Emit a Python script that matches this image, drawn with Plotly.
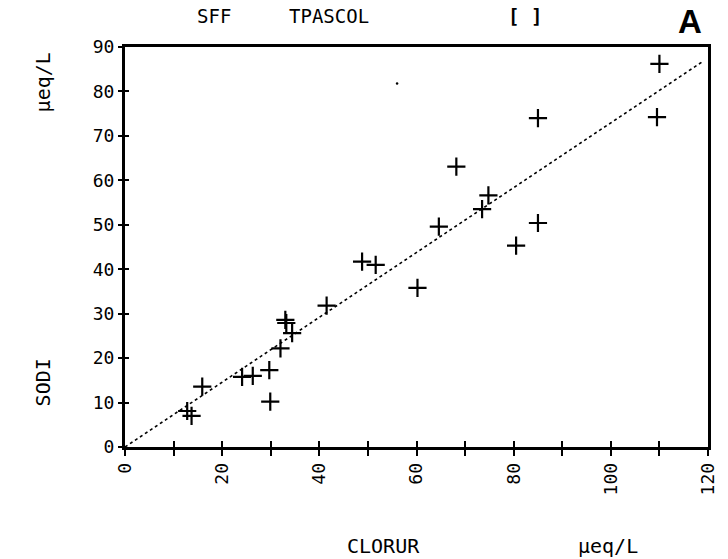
import plotly.graph_objects as go

# --- data ---
clorur = [12.8, 13.7, 15.9, 24.1, 26.3, 29.7, 29.9, 32.0, 33.0, 33.2, 34.4,
          41.5, 48.8, 51.6, 60.2, 64.6, 68.2, 73.5, 74.8, 80.5, 85.0, 85.0,
          109.5, 110.0]
sodi = [8.1, 7.0, 13.6, 15.8, 16.0, 17.3, 10.2, 22.2, 28.6, 27.9, 25.6,
        31.8, 41.7, 41.0, 35.8, 49.6, 63.1, 53.5, 56.6, 45.3, 50.4, 74.0,
        74.2, 86.2]
fit_x = [0, 119]
fit_y = [0, 86.8]
stray_x = [56]
stray_y = [81.8]

x_ticks = list(range(0, 121, 10))
x_text = [str(v) if v % 20 == 0 else "" for v in x_ticks]
y_ticks = list(range(0, 91, 10))
y_text = [str(v) for v in y_ticks]

MONO = "DejaVu Sans Mono"

fig = go.Figure()
fig.add_trace(go.Scatter(x=fit_x, y=fit_y, mode="lines",
                         line=dict(color="black", width=1.6, dash="dot"),
                         showlegend=False, hoverinfo="skip"))
fig.add_trace(go.Scatter(x=clorur, y=sodi, mode="markers",
                         marker=dict(symbol="cross-thin-open", size=13,
                                     color="black",
                                     line=dict(color="black", width=2.2)),
                         showlegend=False))
fig.add_trace(go.Scatter(x=stray_x, y=stray_y, mode="markers",
                         marker=dict(symbol="circle", size=2.5, color="black"),
                         showlegend=False, hoverinfo="skip"))
fig.add_trace(go.Scatter(x=[None], y=[None], xaxis="x2", yaxis="y2",
                         showlegend=False, hoverinfo="skip"))

axis_common = dict(showgrid=False, zeroline=False, tickcolor="black",
                   tickwidth=2)

fig.update_layout(
    width=728, height=559,
    margin=dict(l=125, r=10, t=47, b=112),
    paper_bgcolor="white", plot_bgcolor="white",
    font=dict(family=MONO, color="black", size=18),
    xaxis=dict(range=[0, 120], tickvals=x_ticks, ticktext=x_text,
               ticks="outside", ticklen=6, tickangle=-90,
               showline=True, linewidth=2.5, linecolor="black", mirror=True,
               tickfont=dict(family=MONO, size=18), **axis_common),
    xaxis2=dict(range=[0, 120], overlaying="x", side="bottom", anchor="y",
                tickvals=x_ticks, ticks="inside", ticklen=6,
                showticklabels=False, showline=False, **axis_common),
    yaxis=dict(range=[0, 90], tickvals=y_ticks, ticktext=y_text,
               ticks="outside", ticklen=4,
               showline=True, linewidth=3, linecolor="black", mirror=True,
               tickfont=dict(family=MONO, size=18), **axis_common),
    yaxis2=dict(range=[0, 90], overlaying="y", side="left", anchor="x",
                tickvals=y_ticks, ticks="inside", ticklen=4,
                showticklabels=False, showline=False, **axis_common),
)

def px_x(p):
    return (p - 125) / 593.0

def px_y(p):
    return (447 - p) / 400.0

def note(text, xp, yp, size, family=MONO, angle=0):
    fig.add_annotation(text=text, x=px_x(xp), y=px_y(yp), xref="paper",
                       yref="paper", showarrow=False, textangle=angle,
                       xanchor="center", yanchor="middle",
                       font=dict(family=family, size=size, color="black"))

note("SFF", 216, 16, 19)
note("TPASCOL", 332, 16, 19)
note("<b>[ ]</b>", 532, 16, 19)
note("CLORUR", 388, 546, 20)
note("µeq/L", 616, 546, 20)
note("<b>A</b>", 700, 21, 33, family="Liberation Sans")
note("SODI", 42, 382, 20, angle=-90)
note("µeq/L", 42, 82, 20, angle=-90)

fig.write_html("out.html")
